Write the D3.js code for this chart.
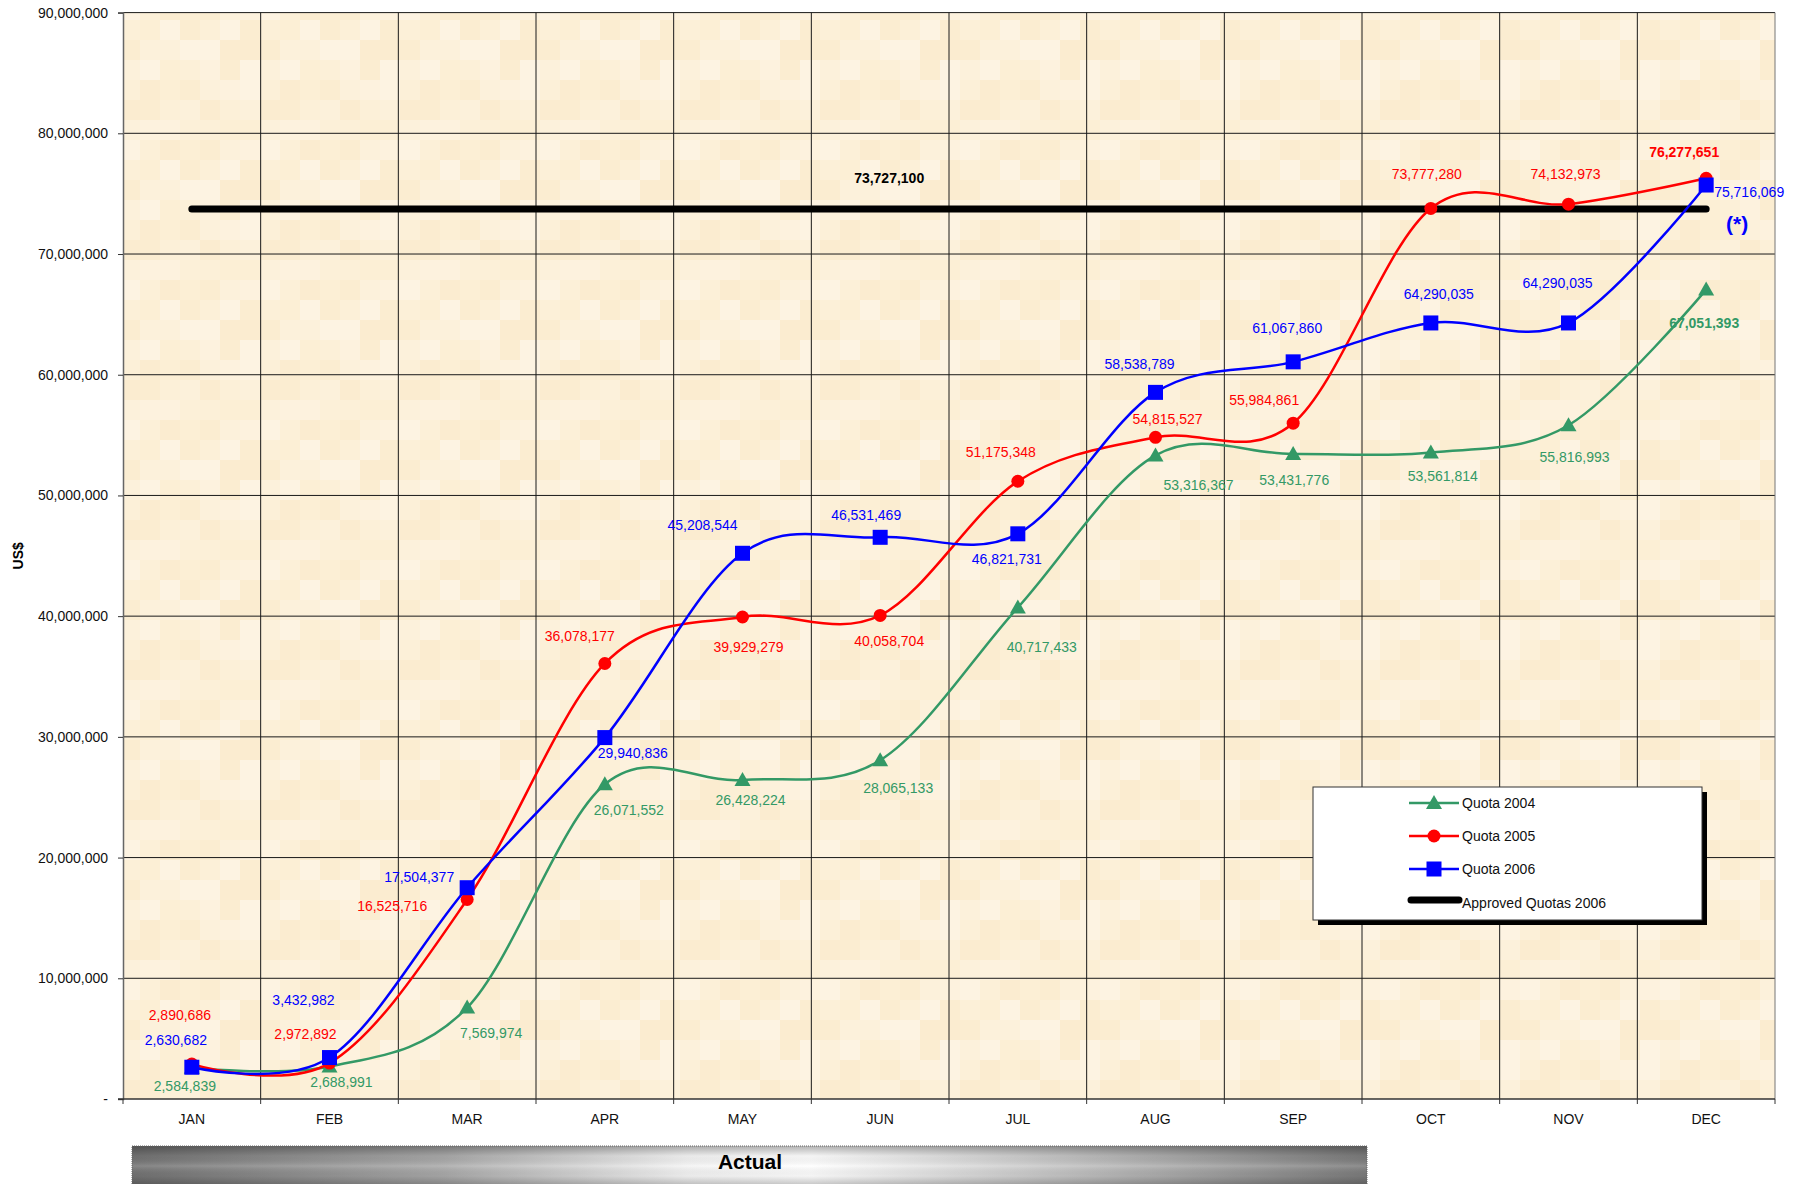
<!DOCTYPE html>
<html>
<head>
<meta charset="utf-8">
<script src="https://cdn.jsdelivr.net/npm/d3@7"></script>
<style>
  body { margin: 0; background: #fff; }
  svg { display: block; font-family: "Liberation Sans", Arial, sans-serif; }
</style>
</head>
<body>
<div id="chart"></div>
<script>
// months + series
const months = ["JAN","FEB","MAR","APR","MAY","JUN","JUL","AUG","SEP","OCT","NOV","DEC"];
const quota2004 = [2584839, 2688991, 7569974, 26071552, 26428224, 28065133, 40717433, 53316367, 53431776, 53561814, 55816993, 67051393];
const quota2005 = [2890686, 2972892, 16525716, 36078177, 39929279, 40058704, 51175348, 54815527, 55984861, 73777280, 74132973, 76277651];
const quota2006 = [2630682, 3432982, 17504377, 29940836, 45208544, 46531469, 46821731, 58538789, 61067860, 64290035, 64290035, 75716069];
const approved = 73727100;
const yTicks = [0, 10e6, 20e6, 30e6, 40e6, 50e6, 60e6, 70e6, 80e6, 90e6];

// hand placed label offsets (px from the point), like the excel original
const off2004 = [[-7,18],[12,15],[24,25],[24,26],[8,20],[18,28],[24,40],[43,30],[1,26],[12,24],[6,32],[-2,33]];
const off2005 = [[-12,-49],[-24,-29],[-75,6],[-25,-27],[6,30],[9,26],[-17,-29],[12,-18],[-29,-23],[-4,-34],[-3,-30],[-22,-26]];
const off2006 = [[-16,-27],[-26,-58],[-48,-11],[28,15],[-40,-28],[-14,-22],[-11,25],[-16,-28],[-6,-34],[8,-29],[-11,-40],[43,7]];

const width = 1799, height = 1184;
const margin = {left: 123, right: 24, top: 12.6, bottom: 85};

const svg = d3.select("#chart").append("svg")
    .attr("width", width)
    .attr("height", height);

const xScale = d3.scaleBand()
    .domain(months)
    .range([margin.left, width - margin.right])
    .padding(0);

const yScale = d3.scaleLinear()
    .domain([0, 90e6])
    .range([height - margin.bottom, margin.top]);

const cx = (i) => xScale(months[i]) + xScale.bandwidth() / 2;
const plotW = width - margin.right - margin.left;
const plotH = (height - margin.bottom) - margin.top;

// beige texture background (subtle)
const defs = svg.append("defs");
const pat = defs.append("pattern")
    .attr("id", "tex")
    .attr("patternUnits", "userSpaceOnUse")
    .attr("width", 140).attr("height", 140);
const tones = ["#fcf0d8", "#fbedd1", "#fdf3e2", "#fcefd5", "#fdf2de", "#fbecd0", "#fcf1db"];
for (let r = 0; r < 7; r++) {
  for (let c = 0; c < 7; c++) {
    pat.append("rect")
      .attr("x", c * 20).attr("y", r * 20)
      .attr("width", 20).attr("height", 20)
      .attr("fill", tones[(r * 3 + c * 5 + (r * c) % 4) % tones.length]);
  }
}

svg.append("rect")
    .attr("x", margin.left).attr("y", margin.top)
    .attr("width", plotW).attr("height", plotH)
    .attr("fill", "url(#tex)");

// gridlines
svg.append("g")
    .selectAll("line")
    .data(yTicks.slice(1))
    .enter()
    .append("line")
      .attr("x1", margin.left).attr("x2", width - margin.right)
      .attr("y1", d => yScale(d)).attr("y2", d => yScale(d))
      .attr("stroke", "#1a1a1a").attr("stroke-width", 1);

svg.append("g")
    .selectAll("line")
    .data(months.slice(1).concat(["end"]))
    .enter()
    .append("line")
      .attr("x1", d => d === "end" ? width - margin.right : xScale(d))
      .attr("x2", d => d === "end" ? width - margin.right : xScale(d))
      .attr("y1", margin.top).attr("y2", height - margin.bottom)
      .attr("stroke", d => d === "end" ? "#777" : "#1a1a1a").attr("stroke-width", 1);

// y axis
const yAxis = svg.append("g")
    .attr("transform", `translate(${margin.left},0)`)
    .call(d3.axisLeft(yScale)
        .tickValues(yTicks)
        .tickSize(5)
        .tickPadding(10)
        .tickFormat(d => d === 0 ? "-" : d3.format(",")(d)));
yAxis.select(".domain").attr("stroke", "#666").attr("stroke-width", 1.5);
yAxis.selectAll(".tick line").attr("stroke", "#333");
yAxis.selectAll("text").attr("font-size", "14px").attr("fill", "#111")
    .attr("font-family", "Liberation Sans, Arial, sans-serif");

// x axis line + boundary ticks
svg.append("line")
    .attr("x1", margin.left - 5).attr("x2", width - margin.right)
    .attr("y1", yScale(0)).attr("y2", yScale(0))
    .attr("stroke", "#333").attr("stroke-width", 1.5);

svg.append("g")
    .selectAll("line")
    .data(months.concat(["end"]))
    .enter()
    .append("line")
      .attr("x1", d => d === "end" ? width - margin.right : xScale(d))
      .attr("x2", d => d === "end" ? width - margin.right : xScale(d))
      .attr("y1", yScale(0)).attr("y2", yScale(0) + 5)
      .attr("stroke", "#333");

svg.append("g")
    .selectAll("text")
    .data(months)
    .enter()
    .append("text")
      .attr("x", (d, i) => cx(i))
      .attr("y", yScale(0) + 20)
      .attr("dominant-baseline", "central")
      .attr("text-anchor", "middle")
      .attr("font-size", "14px")
      .attr("fill", "#111")
      .text(d => d);

// y title
svg.append("text")
    .attr("transform", `translate(18,${(margin.top + height - margin.bottom) / 2}) rotate(-90)`)
    .attr("text-anchor", "middle")
    .attr("dominant-baseline", "central")
    .attr("font-size", "14px")
    .attr("font-weight", "bold")
    .text("US$");

// approved quota line
svg.append("line")
    .attr("x1", cx(0)).attr("x2", cx(11))
    .attr("y1", yScale(approved)).attr("y2", yScale(approved))
    .attr("stroke", "#000").attr("stroke-width", 7)
    .attr("stroke-linecap", "round");

svg.append("text")
    .attr("x", cx(5) + 9).attr("y", yScale(approved) - 31)
    .attr("text-anchor", "middle").attr("dominant-baseline", "central")
    .attr("font-size", "14px").attr("font-weight", "bold")
    .text(d3.format(",")(approved));

const line = d3.line()
    .x((d, i) => cx(i))
    .y(d => yScale(d))
    .curve(d3.curveCatmullRom.alpha(0));

const series = [
  {name: "Quota 2004", values: quota2004, color: "#339966", marker: "triangle", offs: off2004},
  {name: "Quota 2005", values: quota2005, color: "#ff0000", marker: "circle", offs: off2005},
  {name: "Quota 2006", values: quota2006, color: "#0000ff", marker: "square", offs: off2006}
];

function drawMarker(g, type, color, x, y) {
  if (type === "circle") {
    g.append("circle").attr("cx", x).attr("cy", y).attr("r", 6.5).attr("fill", color);
  } else if (type === "square") {
    g.append("rect").attr("x", x - 7.5).attr("y", y - 7.5).attr("width", 15).attr("height", 15).attr("fill", color);
  } else {
    g.append("path").attr("d", `M${x},${y - 8}L${x + 8},${y + 6}L${x - 8},${y + 6}Z`).attr("fill", color);
  }
}

series.forEach(s => {
  const g = svg.append("g");
  g.append("path")
      .datum(s.values)
      .attr("d", line)
      .attr("fill", "none")
      .attr("stroke", s.color)
      .attr("stroke-width", 2.5);
  s.values.forEach((v, i) => drawMarker(g, s.marker, s.color, cx(i), yScale(v)));
});

// data labels on top
series.forEach(s => {
  svg.append("g")
    .selectAll("text")
    .data(s.values)
    .enter()
    .append("text")
      .attr("x", (d, i) => cx(i) + s.offs[i][0])
      .attr("y", (d, i) => yScale(d) + s.offs[i][1])
      .attr("text-anchor", "middle")
      .attr("dominant-baseline", "central")
      .attr("font-size", "14px")
      .attr("font-weight", (d, i) => (i === 11 && s.name !== "Quota 2006") ? "bold" : "normal")
      .attr("fill", s.color)
      .text(d => d3.format(",")(d));
});

svg.append("text")
    .attr("x", cx(11) + 31).attr("y", yScale(quota2006[11]) + 38)
    .attr("text-anchor", "middle").attr("dominant-baseline", "central")
    .attr("font-size", "21px").attr("font-weight", "bold")
    .attr("fill", "#0000ff")
    .text("(*)");

// legend
const lg = svg.append("g").attr("transform", "translate(1313,787)");
lg.append("rect").attr("x", 5).attr("y", 5).attr("width", 389).attr("height", 133).attr("fill", "#000");
lg.append("rect").attr("width", 389).attr("height", 133).attr("fill", "#fff").attr("stroke", "#333").attr("stroke-width", 1);
series.forEach((s, i) => {
  const y = 16 + i * 33;
  lg.append("line").attr("x1", 96).attr("x2", 146).attr("y1", y).attr("y2", y)
    .attr("stroke", s.color).attr("stroke-width", 2.5);
  drawMarker(lg, s.marker, s.color, 121, y);
  lg.append("text").attr("x", 149).attr("y", y).attr("dominant-baseline", "central")
    .attr("font-size", "14px").attr("fill", "#111").text(s.name);
});
lg.append("line").attr("x1", 98).attr("x2", 146).attr("y1", 113).attr("y2", 113)
  .attr("stroke", "#000").attr("stroke-width", 7).attr("stroke-linecap", "round");
lg.append("text").attr("x", 149).attr("y", 116).attr("dominant-baseline", "central")
  .attr("font-size", "14px").attr("fill", "#111").text("Approved Quotas 2006");

// "Actual" band
const gh = defs.append("linearGradient").attr("id", "bandH");
[[0, "#727272"], [0.25, "#a8a8a8"], [0.45, "#f4f4f4"], [0.55, "#ffffff"], [0.75, "#c4c4c4"], [1, "#7a7a7a"]]
  .forEach(st => gh.append("stop").attr("offset", st[0]).attr("stop-color", st[1]));
const gv = defs.append("linearGradient").attr("id", "bandV").attr("x1", 0).attr("x2", 0).attr("y1", 0).attr("y2", 1);
[[0, "#000", 0.3], [0.25, "#000", 0.04], [0.5, "#fff", 0.15], [0.75, "#000", 0.04], [1, "#000", 0.25]]
  .forEach(st => gv.append("stop").attr("offset", st[0]).attr("stop-color", st[1]).attr("stop-opacity", st[2]));

svg.append("rect").attr("x", 132).attr("y", 1146).attr("width", 1235).attr("height", 40).attr("fill", "url(#bandH)");
svg.append("rect").attr("x", 132).attr("y", 1146).attr("width", 1235).attr("height", 40).attr("fill", "url(#bandV)")
  .attr("stroke", "#666").attr("stroke-dasharray", "1,1");
svg.append("text")
    .attr("x", 750).attr("y", 1161)
    .attr("text-anchor", "middle").attr("dominant-baseline", "central")
    .attr("font-size", "21px").attr("font-weight", "bold")
    .text("Actual");
</script>
</body>
</html>
